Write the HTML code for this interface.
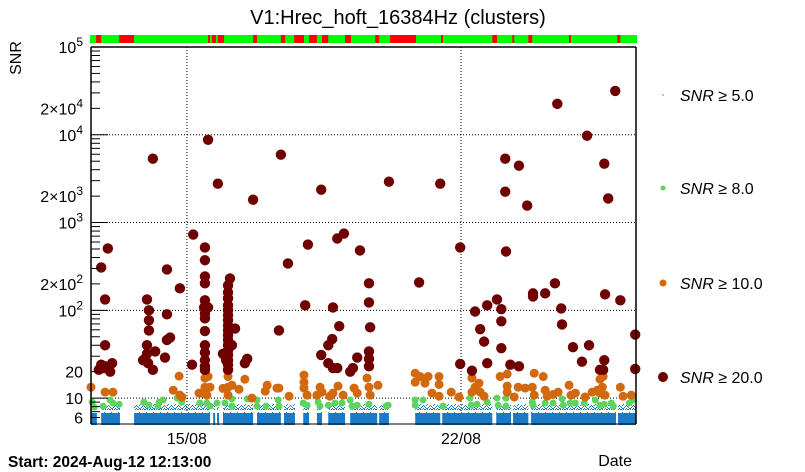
<!DOCTYPE html>
<html><head><meta charset="utf-8">
<style>
html,body{margin:0;padding:0;background:#fff;}
svg{display:block;font-family:"Liberation Sans",sans-serif;}
</style></head>
<body>
<svg id="chart" width="805" height="472" viewBox="0 0 805 472" xmlns="http://www.w3.org/2000/svg">
<defs>
<pattern id="speck" width="7" height="10" patternUnits="userSpaceOnUse">
<rect x="0" y="8" width="1" height="1" fill="#1a7ac6"/><rect x="3" y="5" width="1" height="1" fill="#1a7ac6"/>
<rect x="5" y="7" width="1" height="1" fill="#1a7ac6"/><rect x="1" y="3" width="1" height="1" fill="#1a7ac6"/>
<rect x="4" y="9" width="1" height="1" fill="#1a7ac6"/><rect x="6" y="2" width="1" height="1" fill="#1a7ac6"/>
<rect x="2" y="6" width="1" height="1" fill="#1a7ac6"/><rect x="0" y="4" width="1" height="1" fill="#1a7ac6"/>
<rect x="5" y="9" width="1" height="1" fill="#1a7ac6"/><rect x="2" y="9" width="1" height="1" fill="#1a7ac6"/>
<rect x="1" y="7" width="1" height="1" fill="#1a7ac6"/><rect x="6" y="8" width="1" height="1" fill="#1a7ac6"/>
<rect x="3" y="8" width="1" height="1" fill="#1a7ac6"/><rect x="4" y="6" width="1" height="1" fill="#1a7ac6"/>
<rect x="0" y="9" width="1" height="1" fill="#1a7ac6"/><rect x="6" y="5" width="1" height="1" fill="#1a7ac6"/>
</pattern>
</defs>
<text x="398" y="24" font-size="20" text-anchor="middle" fill="#000">V1:Hrec_hoft_16384Hz (clusters)</text>
<text transform="translate(21,58) rotate(-90)" font-size="16" text-anchor="middle">SNR</text>
<text x="8" y="467" font-size="15.5" font-weight="bold">Start: 2024-Aug-12 12:13:00</text>
<text x="632" y="466" font-size="16" text-anchor="end">Date</text>
<g id="status"></g>
<g id="grid"></g>
<g id="blue"></g>
<g id="green"></g>
<g id="orange"></g>
<g id="red"></g>
<g id="axes"></g>
<g id="legend"></g>
</svg>
<script>
const xTickDays = [2.45, 9.45];
const xTickLabels = ["15/08", "22/08"];
const yTickVals = [100000, 20000, 10000, 2000, 1000, 200, 100, 20, 10, 6];
const yTickLabels = ["10<5", "2\u00d710<4", "10<4", "2\u00d710<3", "10<3", "2\u00d710<2", "10<2", "20", "10", "6"];
const statusRed = [[0.13,0.26],[0.72,1.1],[2.99,3.04],[3.09,3.19],[3.24,3.4],[4.14,4.24],[4.85,4.96],[5.19,5.44],[5.57,5.77],[5.9,6.06],[6.49,6.64],[7.26,7.36],[7.64,8.3],[8.94,8.99],[10.25,10.37],[10.76,10.81],[11.17,11.27],[12.21,12.26],[13.44,13.52]];
const blueSegments = [[0,0.15],[0.26,0.74],[1.1,3.04],[3.12,3.17],[3.22,3.27],[3.37,4.14],[4.24,4.85],[4.93,5.21],[5.42,5.57],[5.77,5.9],[6.06,6.49],[6.62,7.31],[7.36,7.61],[8.28,8.92],[8.97,10.25],[10.35,10.73],[10.78,11.17],[11.24,13.41],[13.46,13.92]];
const redDays = [1.58,2.99,3.24,4.14,4.85,5.88,7.61,8.92,10.58,10.93,10.58,11.14,11.91,13.39,12.67,13.11,13.21,
0.43,0.26,0.36,0.36,0.26,0.36,0.54,0.49,0.33,0.2,
1.43,1.48,1.48,1.48,1.43,1.43,1.33,1.64,1.58,1.46,1.38,1.94,1.94,1.94,2.02,1.89,2.27,2.58,
2.91,2.91,2.91,2.91,2.91,2.91,2.91,2.91,2.91,2.91,2.91,2.91,2.91,2.89,2.99,2.61,3.55,
3.5,3.5,3.5,3.5,3.5,3.5,3.5,3.5,3.5,3.5,3.5,3.5,3.5,3.5,3.5,3.5,3.5,3.37,3.68,3.6,3.45,
3.99,3.93,4.8,5.03,5.47,5.54,5.88,6.06,6.16,6.18,6.34,6.06,6.18,6.29,6.29,6.46,6.62,6.69,6.8,6.87,
7.1,7.1,7.13,7.1,7.1,7.1,8.38,9.43,10.6,9.43,9.73,9.81,9.94,10.04,10.12,10.12,10.37,10.48,10.48,10.48,
10.71,10.93,11.29,11.29,11.6,11.85,12.01,12.03,12.31,12.72,12.54,13.13,13.52,13.11,13.0,13.08,13.9,13.9];
const redSnr = [5340,8770,2770,1820,5930,2370,2920,2770,5340,4440,2250,1560,22500,31600,9750,4680,1880,
507,308,133,40,24,23,25,20,22,21,
133,100,77,59,40,32,27,34,21,25,28,292,90,46,49,29,178,24,
520,372,243,203,130,92,81,58,40,33,27,23,21,108,108,730,231,
192,160,137,114,100,88,77,67,59,52,46,40,35,31,27,24,21,32,62,40,27,
28,25,59,342,114,562,31,40,47,108,66,25,22,22,658,750,20,22,29,481,
203,123,64,34,28,23,208,520,468,24.5,20.5,97,61,44,114,25,133,103,75,37,
24,23,156,144,156,203,105,69,38,40,26,152,130,27,21,21,53,21.5];
const orangeDays = [0.0,0.36,0.56,2.1,2.25,2.27,2.32,2.76,2.91,2.91,2.83,2.96,3.04,2.99,3.37,3.5,3.5,3.5,3.6,3.78,3.93,4.11,4.45,4.5,4.75,4.8,5.06,5.44,5.44,5.44,5.52,5.85,5.9,5.77,6.31,6.18,6.1,6.44,6.72,6.8,7.05,7.1,7.13,7.33,
8.28,8.28,8.41,8.53,8.61,8.89,8.89,8.71,8.89,9.2,9.4,9.73,9.81,9.91,9.94,9.73,10.04,10.45,10.63,10.63,10.63,10.81,10.91,11.09,11.27,11.32,11.32,11.55,11.6,11.65,11.8,11.93,12.21,12.26,12.37,12.62,12.8,12.93,13.0,13.06,13.0,13.13,13.08,13.52,13.59,13.8];
const orangeSnr = [13.3,11.7,11.7,12.3,17.8,10.8,10.3,11.4,16.9,13.3,11.4,10.8,13.3,17.6,12.9,17.6,13.3,10.8,14,12.6,16.4,10,12,14,13,13,10.5,18.3,15.2,13,10.8,13.3,11.7,10.8,13.7,11.4,10.5,10.8,13,11.4,16.9,13.3,10.8,14,
19.2,15.2,17.6,14.8,17.6,17.6,14.3,11.4,10.5,11.7,10.3,16.9,13.3,14.8,11.7,11.7,10.5,17.6,18.8,13.7,11.7,10.3,13.3,13,13.3,19.2,10.8,17.6,12.3,10.5,11,11.7,14,10.8,11.4,10.3,11.7,12.3,16.4,13.3,11.4,10.8,17.6,13.3,10.5,10.8];
const greenDays = [0.03,0.08,0.31,0.49,0.56,0.72,1.35,1.48,1.71,1.74,1.84,2.2,2.32,2.78,2.96,3.04,3.22,3.42,3.6,3.6,3.99,4.24,4.24,4.47,4.78,4.8,5.42,5.52,5.8,5.85,6.06,6.23,6.41,6.62,6.67,6.8,7.1,7.54,7.59,
8.28,8.28,8.48,8.99,9.68,9.71,9.86,10.12,10.37,10.4,10.6,10.6,11.27,11.29,11.6,11.8,12.03,12.06,12.24,12.37,12.6,12.88,13.0,13.11,13.29,13.34,13.75,13.85];
const greenSnr = [9,7.9,8.1,9.5,8.8,8.5,9,8.3,8.1,9,9.5,10,9,8.8,8.8,8.1,8.8,8.8,9.8,8.1,9.8,9.5,8.1,8.1,9.5,8.1,8.8,8.3,9,8.1,8.3,8.8,8.8,9.5,8.1,8.3,8.5,8.1,8.3,
9.5,8.3,9.5,8.1,10,8.3,8.5,9,10,8.3,10,8.1,9,8.3,8.8,8.8,9.8,8.3,8.8,8.8,8.8,9.5,8.3,8.5,8.8,8.1,8.8,9.5];

const NS = "http://www.w3.org/2000/svg";
const L = 91, R = 636, T = 47, B = 424;
const D0 = 0, D1 = 13.92;
const yMin = 5.07, yMax = 100000;
function xs(d){ return L + (d - D0) / (D1 - D0) * (R - L); }
function ys(v){ return B - (Math.log10(v) - Math.log10(yMin)) / (Math.log10(yMax) - Math.log10(yMin)) * (B - T); }
function mk(tag, attrs, parent){ const e = document.createElementNS(NS, tag); for (const k in attrs) e.setAttribute(k, attrs[k]); parent.appendChild(e); return e; }

const st = document.getElementById('status');
const sb = mk('rect', {x: L - 1, y: 35, width: R - L + 2, height: 8, fill: '#00ff00'}, st);


statusRed.forEach(s => {
  const r = mk('rect', {x: xs(s[0]), y: 35, width: Math.max(1.5, xs(s[1]) - xs(s[0])), height: 8, fill: '#ff0000'}, st);
  
  
});

const gr = document.getElementById('grid');
[10, 100, 1000, 10000].forEach(v => {
  const l = mk('line', {x1: L, x2: R, y1: ys(v), y2: ys(v), stroke: '#000', 'stroke-width': 1, 'stroke-dasharray': '1,2'}, gr);
  
  
});
xTickDays.forEach(d => {
  const l = mk('line', {x1: xs(d), x2: xs(d), y1: T, y2: B, stroke: '#000', 'stroke-width': 1, 'stroke-dasharray': '1,2'}, gr);
  
  
});

const bl = document.getElementById('blue');
blueSegments.forEach(s => {
  const x = xs(s[0]), w = Math.max(2, xs(s[1]) - xs(s[0]));
  const a = mk('rect', {x: x, y: 404, width: w, height: 11, fill: 'url(#speck)'}, bl);
  
  
  const b = mk('rect', {x: x, y: 413, width: w, height: B - 413 + 1, fill: '#1a7ac6'}, bl);
  
  
});

function dots(id, days, vals, r, color, name){
  const g = document.getElementById(id);
  days.forEach((d, i) => {
    const c = mk('circle', {cx: xs(d), cy: ys(vals[i]), r: r, fill: color}, g);
    
    
  });
}
dots('green', greenDays, greenSnr, 3.5, '#5fd35f', 'snr8-point');
dots('orange', orangeDays, orangeSnr, 4.5, '#d2690f', 'snr10-point');
dots('red', redDays, redSnr, 5.2, '#6e0000', 'snr20-point');

const ax = document.getElementById('axes');
mk('line', {x1: L, x2: L, y1: T, y2: B, stroke: '#000', 'stroke-width': 1.5}, ax);
mk('line', {x1: R, x2: R, y1: T, y2: B, stroke: '#000', 'stroke-width': 1.5}, ax);
mk('line', {x1: L, x2: R, y1: T, y2: T, stroke: '#000', 'stroke-width': 1.5}, ax);
mk('line', {x1: L, x2: R, y1: B, y2: B, stroke: '#000', 'stroke-width': 1}, ax);
for (let k = 0; k <= 4; k++) {
  for (let m = 1; m <= 9; m++) {
    const v = m * Math.pow(10, k);
    if (v < yMin || v > yMax) continue;
    const len = m === 1 ? 17 : 9;
    mk('line', {x1: L, x2: L + len, y1: ys(v), y2: ys(v), stroke: '#000', 'stroke-width': 1}, ax);
  }
}
yTickVals.forEach((v, i) => {
  const lab = yTickLabels[i];
  const t = mk('text', {x: 83, y: ys(v) + 6, 'font-size': 16, 'text-anchor': 'end'}, ax);
  
  
  if (lab.indexOf('<') >= 0) {
    const p = lab.split('<');
    t.appendChild(document.createTextNode(p[0]));
    const sp = document.createElementNS(NS, 'tspan');
    sp.setAttribute('dy', '-7'); sp.setAttribute('font-size', '12');
    sp.textContent = p[1];
    t.appendChild(sp);
  } else t.textContent = lab;
});
xTickDays.forEach((d, i) => {
  const t = mk('text', {x: xs(d), y: 444, 'font-size': 16, 'text-anchor': 'middle'}, ax);
  t.textContent = xTickLabels[i];
  
  
});

const lg = document.getElementById('legend');
const legY = [95, 188, 283, 377];
const legC = ['#1a7ac6', '#5fd35f', '#d2690f', '#6e0000'];
const legR = [0.7, 2.5, 3.5, 5];
const legT = ['5.0', '8.0', '10.0', '20.0'];
legY.forEach((y, i) => {
  const c = mk('circle', {cx: 663, cy: y, r: legR[i], fill: legC[i]}, lg);
  
  
  const t = mk('text', {x: 680, y: y + 6, 'font-size': 16}, lg);
  
  
  const it = document.createElementNS(NS, 'tspan');
  it.setAttribute('font-style', 'italic'); it.textContent = 'SNR';
  t.appendChild(it);
  t.appendChild(document.createTextNode(' \u2265 ' + legT[i]));
});
</script>
</body></html>
